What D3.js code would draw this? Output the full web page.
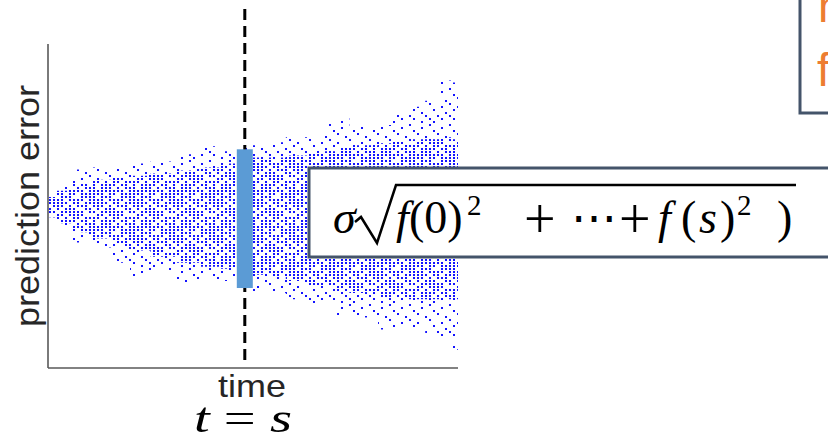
<!DOCTYPE html>
<html>
<head>
<meta charset="utf-8">
<script src="https://cdn.jsdelivr.net/npm/d3@7"></script>
<style>
html,body{margin:0;padding:0;background:#fff;overflow:hidden;}
svg{display:block;}
</style>
</head>
<body>
<svg id="chart" width="828" height="437"></svg>
<script>
// ---- data ----
// time steps (knots) at which the spread of the simulated prediction errors was read
const steps      = [0, 4, 8, 13, 18, 22, 28, 34, 40, 44, 50, 55, 61, 66, 69, 72, 75, 79, 82, 86, 90, 94, 97, 100];
// outermost error values reached (upper / lower envelope of the cloud)
const upperOuter = [0.64, 1.14, 2.0, 2.1, 2.05, 2.3, 2.4, 2.75, 3.15, 2.9, 3.2, 3.35, 3.6, 3.7, 4.4, 4.55, 4.1, 3.95, 4.2, 4.7, 5.1, 5.4, 6.4, 6.3];
const lowerOuter = [-0.35, -0.74, -1.6, -1.85, -2.6, -3.3, -3.0, -3.6, -3.4, -3.5, -4.05, -4.1, -4.4, -4.6, -4.6, -5.2, -5.35, -5.3, -5.9, -5.8, -5.8, -6.1, -6.4, -6.9];
// dense core of the cloud
const upperCore  = [0.64, 0.95, 1.3, 1.5, 1.6, 1.7, 1.8, 1.95, 2.1, 2.3, 2.6, 2.6, 2.7, 2.8, 2.9, 3.1, 3.2, 3.2, 3.3, 3.4, 3.5, 3.5, 3.6, 3.5];
const lowerCore  = [-0.35, -0.65, -1.1, -1.4, -1.8, -2.0, -2.3, -2.6, -2.8, -2.9, -3.2, -3.3, -3.5, -3.7, -3.8, -4.0, -4.1, -4.2, -4.3, -4.3, -4.4, -4.4, -4.4, -4.4];
// the highlighted time t = s and the band of errors it spans
const sTime = 48;
const sBand = [-3.85, 3.0];
// texts
const yLabel = "prediction error";
const xLabel = "time";

// ---- scales ----
const svg = d3.select("#chart");
const x = d3.scaleLinear().domain([0, 100]).range([48, 458]);
const y = d3.scaleLinear().domain([-7.8, 8.2]).range([368, 44]);

// dot texture (one string per column of a 10 x 12 tile, '1' = dot)
const coreTile = [
  "111011010111", "110101011101", "011110110011", "101101101110", "101011011010",
  "110110101101", "011011101010", "011101110110", "110101101011", "101110011101"];
const fringeTile = [
  "100001000100", "001000010010", "000100100000", "010000001001", "000010000100",
  "100001000010", "001000010001", "000100000100", "010000100010", "000010001000"];

const blue = "#1414ff";
const defs = svg.append("defs");
const colW = 4, rowH = 3;
function makePattern(id, tile) {
  const p = defs.append("pattern").attr("id", id)
    .attr("patternUnits", "userSpaceOnUse")
    .attr("x", 49).attr("y", 196)
    .attr("width", colW * tile.length).attr("height", rowH * tile[0].length);
  tile.forEach((col, c) => col.split("").forEach((v, r) => {
    if (v === "1") p.append("rect").attr("x", c * colW).attr("y", r * rowH)
      .attr("width", 2).attr("height", 2).attr("fill", blue)
      .attr("shape-rendering", "crispEdges");
  }));
}
makePattern("fringe", fringeTile);
makePattern("core", coreTile);

const outerData = steps.map((t, i) => ({t, hi: upperOuter[i], lo: lowerOuter[i]}));
const coreData  = steps.map((t, i) => ({t, hi: upperCore[i],  lo: lowerCore[i]}));
const area = d3.area().x(d => x(d.t)).y0(d => y(d.lo)).y1(d => y(d.hi)).curve(d3.curveStep);

svg.append("path").datum(outerData).attr("d", area).attr("fill", "url(#fringe)");
svg.append("path").datum(coreData).attr("d", area).attr("fill", "url(#core)");

// axes (plain lines, no ticks)
const axisColor = "#595959";
svg.append("line").attr("x1", x(0)).attr("x2", x(0)).attr("y1", y(8.2)).attr("y2", y(-7.8))
  .attr("stroke", axisColor).attr("stroke-width", 1.6);
svg.append("line").attr("x1", x(0)).attr("x2", x(100)).attr("y1", y(-7.8)).attr("y2", y(-7.8))
  .attr("stroke", axisColor).attr("stroke-width", 1.6);

// dashed line at t = s
svg.append("line").attr("x1", x(sTime)).attr("x2", x(sTime)).attr("y1", 9).attr("y2", 366)
  .attr("stroke", "#000").attr("stroke-width", 3).attr("stroke-dasharray", "11,6");

// highlighted band
svg.append("rect").attr("x", x(sTime) - 8).attr("width", 16)
  .attr("y", y(sBand[1])).attr("height", y(sBand[0]) - y(sBand[1]))
  .attr("fill", "#5b9bd5");

// axis labels
svg.append("text").attr("transform", "translate(39,206) rotate(-90)")
  .attr("text-anchor", "middle").attr("font-family", "Liberation Sans, Arial, sans-serif")
  .attr("font-size", 33).attr("fill", "#262626")
  .attr("textLength", 242).attr("lengthAdjust", "spacingAndGlyphs").text(yLabel);
svg.append("text").attr("x", 252).attr("y", 397)
  .attr("text-anchor", "middle").attr("font-family", "Liberation Sans, Arial, sans-serif")
  .attr("font-size", 32).attr("fill", "#262626")
  .attr("textLength", 68).attr("lengthAdjust", "spacingAndGlyphs").text(xLabel);

// t = s
const serif = "Liberation Serif, Times New Roman, serif";
const ts = svg.append("text").attr("x", 194).attr("y", 432)
  .attr("font-family", serif).attr("font-size", 42).attr("fill", "#000")
  .attr("textLength", 98).attr("lengthAdjust", "spacingAndGlyphs");
ts.append("tspan").attr("font-style", "italic").text("t");
ts.append("tspan").text(" = ");
ts.append("tspan").attr("font-style", "italic").text("s");

// formula box
svg.append("rect").attr("x", 309).attr("y", 168).attr("width", 540).attr("height", 89)
  .attr("fill", "#fff").attr("stroke", "#44546a").attr("stroke-width", 3);

function t(xp, yp, str, opts = {}) {
  return svg.append("text").attr("x", xp).attr("y", yp)
    .attr("font-family", serif).attr("font-size", opts.size || 46)
    .attr("font-style", opts.italic ? "italic" : "normal")
    .attr("fill", "#000").text(str);
}
t(333, 233, "σ", {italic: true});
svg.append("path").attr("d", "M355,222 L361,217 L377,243 L396,185 L796,185")
  .attr("fill", "none").attr("stroke", "#000").attr("stroke-width", 2.5).attr("stroke-linejoin", "miter");
t(396, 233, "f", {italic: true});
t(409, 233, "(0)");
t(467, 215, "2", {size: 29});
t(524, 238, "+", {size: 56});
t(571, 233, "⋯");
t(619, 238, "+", {size: 56});
t(658, 233, "f", {italic: true});
t(681, 233, "(");
t(699, 233, "s", {italic: true});
t(720, 233, ")");
t(737, 215, "2", {size: 29});
t(777, 233, ")");

// top-right box (partially visible)
svg.append("rect").attr("x", 800).attr("y", -10).attr("width", 100).attr("height", 123)
  .attr("fill", "#fff").attr("stroke", "#44546a").attr("stroke-width", 3);
svg.append("text").attr("x", 818).attr("y", 22).attr("font-family", "Liberation Sans, Arial, sans-serif")
  .attr("font-size", 46).attr("fill", "#ed7d31").text("h");
svg.append("text").attr("x", 817).attr("y", 86).attr("font-family", "Liberation Sans, Arial, sans-serif")
  .attr("font-size", 46).attr("fill", "#ed7d31").text("f");
</script>
</body>
</html>
